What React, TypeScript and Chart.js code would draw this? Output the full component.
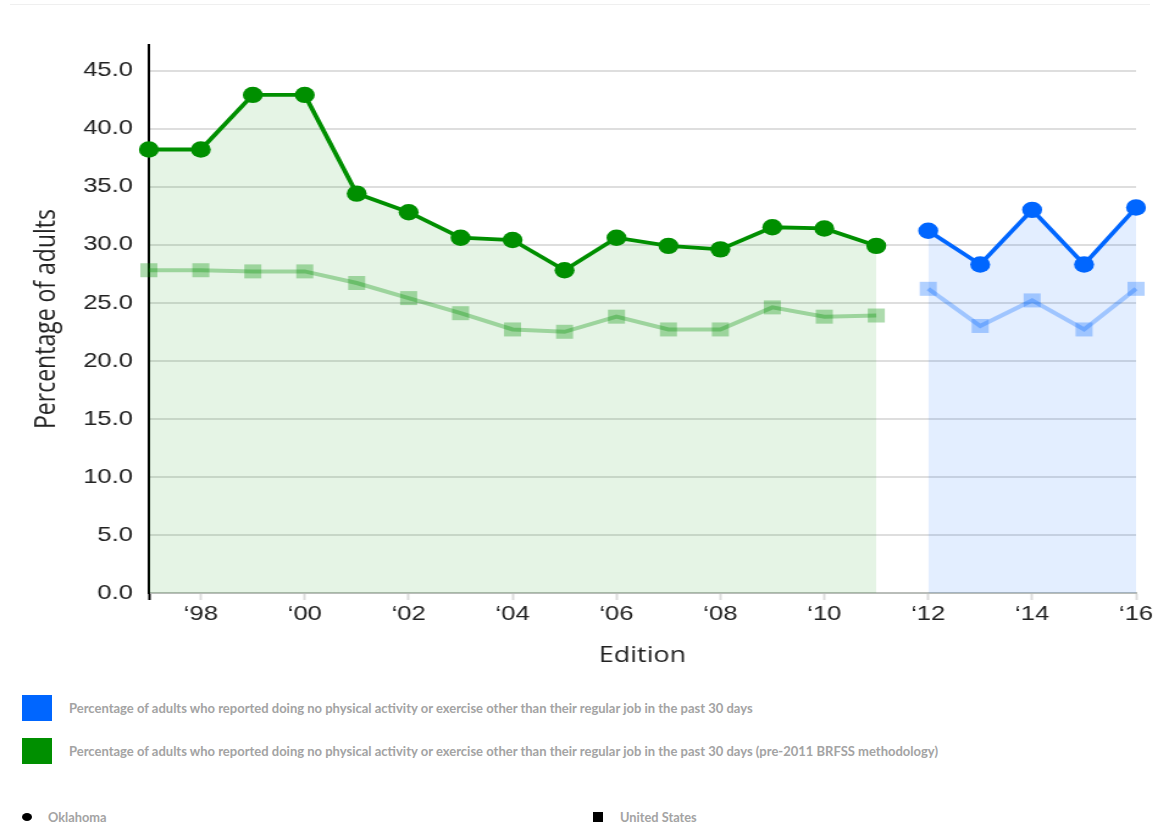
import React, { useEffect, useRef } from "react";
import { Chart, registerables } from "chart.js";

Chart.register(...registerables);

// Survey editions (x axis)
const editions = [
  "1997", "1998", "1999", "2000", "2001", "2002", "2003", "2004", "2005", "2006",
  "2007", "2008", "2009", "2010", "2011", "2012", "2013", "2014", "2015", "2016",
];

// Pre-2011 BRFSS methodology
const oklahomaPre = [38.2, 38.2, 42.9, 42.9, 34.4, 32.8, 30.6, 30.4, 27.8, 30.6, 29.9, 29.6, 31.5, 31.4, 29.9, null, null, null, null, null];
const usPre = [27.8, 27.8, 27.7, 27.7, 26.7, 25.4, 24.1, 22.7, 22.5, 23.8, 22.7, 22.7, 24.6, 23.8, 23.9, null, null, null, null, null];

// Current methodology
const oklahomaNew = [null, null, null, null, null, null, null, null, null, null, null, null, null, null, null, 31.2, 28.3, 33.0, 28.3, 33.2];
const usNew = [null, null, null, null, null, null, null, null, null, null, null, null, null, null, null, 26.2, 23.0, 25.2, 22.7, 26.2];

const yAxisMax = 47.2;
const yStep = 5;

const seriesLegend = [
  { label: "Percentage of adults who reported doing no physical activity or exercise other than their regular job in the past 30 days", color: "#0066ff" },
  { label: "Percentage of adults who reported doing no physical activity or exercise other than their regular job in the past 30 days (pre-2011 BRFSS methodology)", color: "#008f00" },
];
const shapeLegend = [
  { label: "Oklahoma", shape: "circle" },
  { label: "United States", shape: "square" },
];

const GREEN = "#008f00";
const BLUE = "#0066ff";
const GREEN_SOFT = "rgba(0,143,0,0.32)";
const BLUE_SOFT = "rgba(0,102,255,0.3)";
const GREEN_FILL = "rgba(0,143,0,0.1)";
const BLUE_FILL = "rgba(0,102,255,0.11)";

// the canvas is laid out narrower and widened horizontally
const CW = 949;
const CH = 680;
const SX = 1158 / CW;

export default function App() {
  const ref = useRef<HTMLCanvasElement>(null);

  useEffect(() => {
    if (!ref.current) return;
    const stateLine = (data: (number | null)[], color: string, fill: string) => ({
      data,
      borderColor: color,
      backgroundColor: fill,
      pointBackgroundColor: color,
      pointBorderWidth: 0,
      pointRadius: 8.2,
      pointHoverRadius: 8.2,
      pointStyle: "circle" as const,
      borderWidth: 3.8,
      fill: "origin",
      tension: 0,
      spanGaps: false,
    });
    const nationLine = (data: (number | null)[], color: string) => ({
      data,
      borderColor: color,
      backgroundColor: color,
      pointBackgroundColor: color,
      pointBorderWidth: 0,
      pointRadius: 9.9,
      pointHoverRadius: 9.9,
      pointStyle: "rect" as const,
      borderWidth: 4,
      fill: false,
      tension: 0,
      spanGaps: false,
    });

    const chart = new Chart(ref.current, {
      type: "line",
      data: {
        labels: editions,
        datasets: [
          stateLine(oklahomaPre, GREEN, GREEN_FILL),
          stateLine(oklahomaNew, BLUE, BLUE_FILL),
          nationLine(usPre, GREEN_SOFT),
          nationLine(usNew, BLUE_SOFT),
        ],
      },
      options: {
        responsive: false,
        animation: false,
        layout: { padding: { top: 45, right: 18, bottom: 0, left: 0 } },
        plugins: {
          legend: { display: false },
          tooltip: { enabled: false },
          filler: { drawTime: "beforeDatasetsDraw" },
        },
        scales: {
          x: {
            type: "category",
            offset: false,
            afterFit: (s: any) => { s.height = 87; },
            grid: {
              drawOnChartArea: false,
              drawTicks: true,
              tickLength: 7,
              tickWidth: 2,
              tickColor: (c: any) => (c.index === 0 ? "#000" : c.index % 2 === 1 ? "#dcdcdc" : "rgba(0,0,0,0)"),
            },
            border: { display: true, color: "#b9bdb9", width: 2 },
            ticks: {
              autoSkip: false,
              maxRotation: 0,
              padding: 2,
              color: "#222",
              font: { family: "'Liberation Sans', Arial, sans-serif", size: 21 },
              callback: (_v: any, i: number) => {
                const yr = editions[i];
                return Number(yr) % 2 === 0 ? "\u2018" + yr.slice(2) : "";
              },
            },
            title: {
              display: true,
              text: "Edition",
              color: "#222",
              font: { family: "'Open Sans', sans-serif", size: 22 },
              padding: { top: 0, bottom: 11 },
            },
          },
          y: {
            min: 0,
            max: yAxisMax,
            afterFit: (s: any) => { s.width = 122; },
            grid: { color: "#dedede", lineWidth: 2, drawTicks: false },
            border: { display: true, color: "#000", width: 2 },
            ticks: {
              stepSize: yStep,
              includeBounds: false,
              padding: 13,
              color: "#222",
              font: { family: "'Liberation Sans', Arial, sans-serif", size: 21 },
              callback: (v: any) => Number(v).toFixed(1),
            },
            title: {
              display: true,
              text: "Percentage of adults",
              color: "#222",
              font: { family: "'Open Sans', sans-serif", size: 23 },
              padding: { top: 25, bottom: 0 },
            },
          },
        },
      },
    });
    return () => chart.destroy();
  }, []);

  return (
    <div style={{ position: "absolute", left: 0, top: 0, width: 1158, height: 825, background: "#fff", overflow: "hidden" }}>
      <div style={{ position: "absolute", left: 10, top: 4, width: 1140, height: 1, background: "#efefef" }} />
      <div style={{ position: "absolute", left: 0, top: 0, width: CW, height: CH, transform: `scaleX(${SX})`, transformOrigin: "0 0" }}>
        <canvas ref={ref} width={CW} height={CH} style={{ display: "block" }} />
      </div>
      {seriesLegend.map((s, i) => (
        <div key={s.label} style={{ position: "absolute", left: 22, top: 695 + i * 43, height: 26, display: "flex", alignItems: "center" }}>
          <div style={{ width: 30, height: 26, background: s.color }} />
          <div style={{ marginLeft: 17, fontFamily: "Lato, sans-serif", fontWeight: 700, fontSize: 13, color: "#a3a3a3", whiteSpace: "nowrap" }}>{s.label}</div>
        </div>
      ))}
      {shapeLegend.map((s, i) => (
        <div key={s.label} style={{ position: "absolute", left: 22, top: 809, height: 16, display: "flex", alignItems: "center", ...(i === 1 ? { left: 593 } : {}) }}>
          <div style={{ width: 10, height: s.shape === "circle" ? 8 : 10, borderRadius: s.shape === "circle" ? "50%" : 0, background: "#000" }} />
          <div style={{ marginLeft: s.shape === "circle" ? 16 : 17, fontFamily: "Lato, sans-serif", fontWeight: 700, fontSize: 12.8, color: "#a3a3a3", whiteSpace: "nowrap" }}>{s.label}</div>
        </div>
      ))}
    </div>
  );
}
